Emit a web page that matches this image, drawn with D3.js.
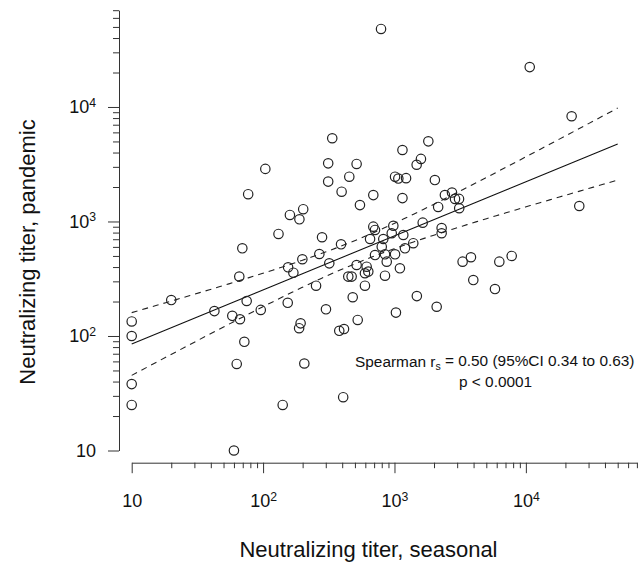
<!DOCTYPE html>
<html>
<head>
<meta charset="utf-8">
<script src="https://cdn.jsdelivr.net/npm/d3@7"></script>
<style>
  body { margin: 0; background: #fff; }
  svg { font-family: "Liberation Sans", Arial, Helvetica, sans-serif; }
</style>
</head>
<body>
<div id="chart"></div>
<script>
// titers (seasonal = x, pandemic = y)
const seasonal = [790, 10700, 22300, 104, 77, 336, 313, 515, 453, 313,
  396, 690, 1150, 1810, 1590, 1475, 1010, 1070, 1225, 2030,
  1150, 2420, 2740, 2890, 3100, 3110, 2150, 2285, 2285, 1640,
  25500, 3300, 3820, 6280, 7800, 3980, 5820, 2095, 546, 160,
  202, 189, 131, 281, 392, 690, 711, 980, 953, 822,
  652, 1167, 1390, 1202, 800, 711, 847, 873, 1010, 515,
  614, 632, 596, 445, 472, 847, 1100, 596, 1480, 268,
  199, 319, 155, 170, 253, 481, 154, 301, 96, 1026,
  525, 193, 188, 380, 413, 206, 141, 407, 69.5, 65.9,
  20, 42.6, 75, 58.3, 66.7, 10, 10, 72, 63, 10, 10, 60];
const pandemic = [48000, 22300, 8300, 2880, 1730, 5330, 3220, 3180, 2460, 2230,
  1820, 1700, 4210, 5010, 3520, 3130, 2460, 2370, 2390, 2300,
  1600, 1700, 1790, 1575, 1575, 1305, 1340, 877, 789, 977,
  1365, 446, 487, 446, 500, 308, 257, 180, 1390, 1140,
  1280, 1045, 778, 728, 632, 901, 843, 918, 789, 703,
  703, 762, 646, 583, 603, 509, 517, 446, 517, 417,
  403, 365, 353, 330, 330, 336, 390, 275, 223, 520,
  468, 431, 398, 357, 275, 218, 195, 171, 169, 160,
  138, 129, 117, 111, 115, 57.5, 25, 29.2, 583, 330,
  206, 165, 202, 150, 140, 134, 100, 89, 57, 38, 25, 10];

// log10(pandemic) = intercept + slope * log10(seasonal)
const fitLine = { intercept: 1.458, slope: 0.472 };
// 95% band half width = sqrt(s0^2 + k^2 * (log10 x - center)^2)
const fitBand = { s0: 0.1015, k: 0.1493, center: 2.704 };
const fitRange = [10, 50000];

const xTitle = "Neutralizing titer, seasonal";
const yTitle = "Neutralizing titer, pandemic";
const statLine1 = ["Spearman r", "s", " = 0.50 (95%CI 0.34 to 0.63)"];
const statLine2 = "p < 0.0001";

const width = 640, height = 573;
const axisColor = "#333";

const svg = d3.select("#chart").append("svg")
    .attr("width", width)
    .attr("height", height);

const x = d3.scaleLog().domain([10, 70000]).range([131.7, 636.9]);
const y = d3.scaleLog().domain([10, 70000]).range([450.5, 10.2]);

const isMajor = v => Math.abs(Math.log10(v) - Math.round(Math.log10(v))) < 1e-9;

function powLabel(sel) {
    sel.each(function(d) {
        const t = d3.select(this).text("");
        if (!isMajor(d)) return;
        const e = Math.round(Math.log10(d));
        t.append("tspan").text("10");
        if (e > 1) t.append("tspan").attr("dy", "-0.55em").attr("font-size", "0.68em").text(e);
    });
}

// y axis (detached, R style)
const yAxis = svg.append("g")
    .attr("transform", "translate(119,0)")
    .call(d3.axisLeft(y).ticks(10).tickSize(11).tickSizeOuter(0).tickPadding(12));
yAxis.selectAll(".tick line").attr("x2", d => isMajor(d) ? -11 : -6);
yAxis.selectAll(".tick text").attr("font-size", 18).attr("fill", "#111").call(powLabel);

// x axis
const xAxis = svg.append("g")
    .attr("transform", "translate(0,462.7)")
    .call(d3.axisBottom(x).ticks(10).tickSize(10.5).tickSizeOuter(0).tickPadding(21.5));
xAxis.selectAll(".tick line").attr("y2", d => isMajor(d) ? 10.5 : 5.5);
xAxis.selectAll(".tick text").attr("font-size", 18).attr("fill", "#111").call(powLabel);

svg.selectAll(".domain, .tick line").attr("stroke", axisColor).attr("stroke-width", 1);

// regression line and confidence band
const lx = d3.range(0, 101).map(i => Math.log10(fitRange[0]) + i / 100 * (Math.log10(fitRange[1]) - Math.log10(fitRange[0])));
const fitY = l => fitLine.intercept + fitLine.slope * l;
const halfW = l => Math.sqrt(fitBand.s0 ** 2 + fitBand.k ** 2 * (l - fitBand.center) ** 2);
const line = d3.line().x(d => x(Math.pow(10, d[0]))).y(d => y(Math.pow(10, d[1])));

svg.append("path")
    .attr("d", line(lx.map(l => [l, fitY(l)])))
    .attr("fill", "none").attr("stroke", "#111").attr("stroke-width", 1.1);
[1, -1].forEach(s => {
    svg.append("path")
        .attr("d", line(lx.map(l => [l, fitY(l) + s * halfW(l)])))
        .attr("fill", "none").attr("stroke", "#222").attr("stroke-width", 1.1)
        .attr("stroke-dasharray", "6,5");
});

// points
svg.append("g").selectAll("circle")
    .data(seasonal.map((v, i) => [v, pandemic[i]]))
    .enter()
  .append("circle")
    .attr("cx", d => x(d[0]))
    .attr("cy", d => y(d[1]))
    .attr("r", 4.7)
    .attr("fill", "none")
    .attr("stroke", "#222")
    .attr("stroke-width", 1.2);

// stats annotation
const st = svg.append("text").attr("x", 355).attr("y", 367).attr("font-size", 15.4).attr("fill", "#111");
st.append("tspan").text(statLine1[0]);
st.append("tspan").attr("dy", "0.3em").attr("font-size", 10.5).text(statLine1[1]);
st.append("tspan").attr("dy", "-0.3em").text(statLine1[2]);
svg.append("text").attr("x", 459).attr("y", 387).attr("font-size", 15.4).attr("fill", "#111").text(statLine2);

// axis titles
svg.append("text")
    .attr("x", 368.5).attr("y", 557)
    .attr("text-anchor", "middle").attr("font-size", 22).attr("fill", "#111")
    .text(xTitle);
svg.append("text")
    .attr("transform", "translate(35,252) rotate(-90)")
    .attr("text-anchor", "middle").attr("font-size", 22).attr("fill", "#111")
    .text(yTitle);
</script>
</body>
</html>
